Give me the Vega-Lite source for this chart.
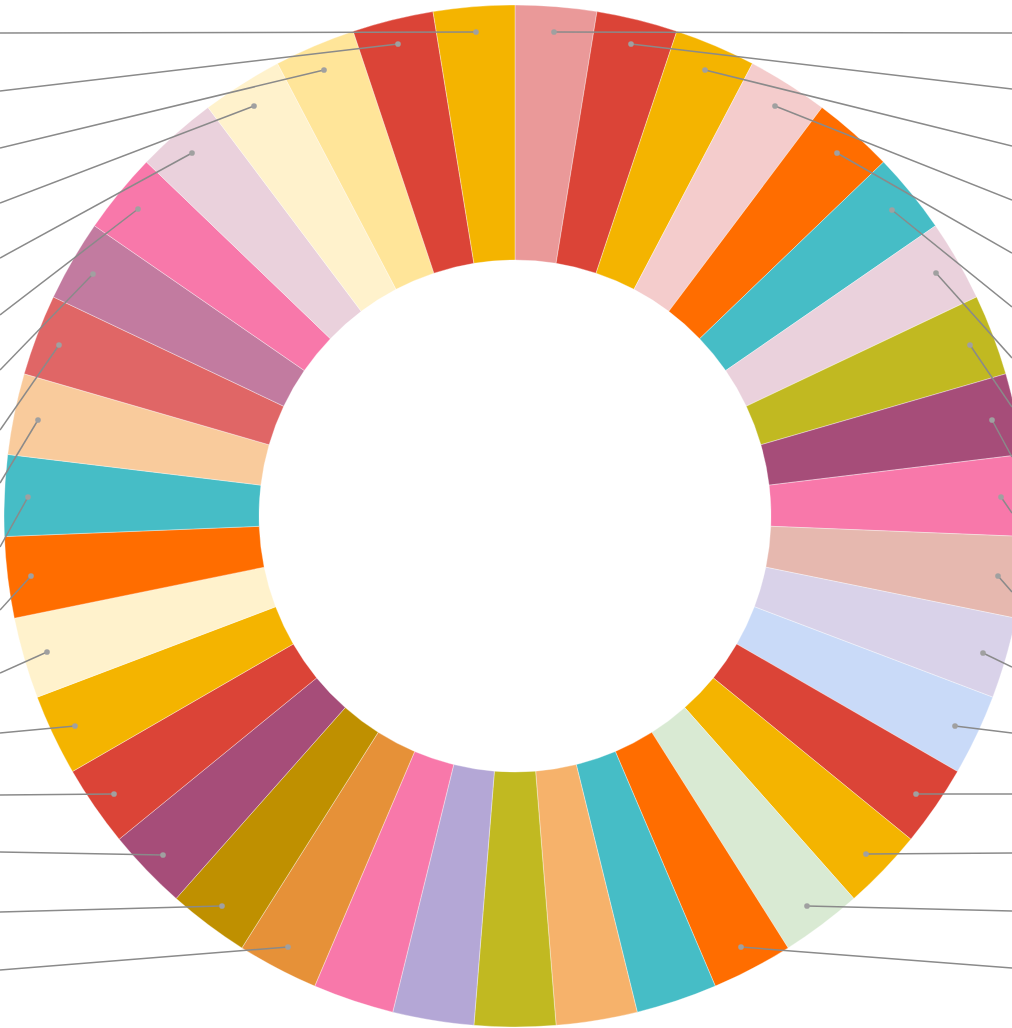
{
  "$schema": "https://vega.github.io/schema/vega-lite/v6.json",
  "width": 994,
  "height": 1024,
  "autosize": {"type": "none"},
  "padding": {"left": 18, "top": 4, "right": 0, "bottom": 0},
  "background": "white",
  "config": {"view": {"stroke": null}},
  "datasets": {
    "slices": [
      {"idx": 1, "name": "S01", "value": 1}, {"idx": 2, "name": "S02", "value": 1},
      {"idx": 3, "name": "S03", "value": 1}, {"idx": 4, "name": "S04", "value": 1},
      {"idx": 5, "name": "S05", "value": 1}, {"idx": 6, "name": "S06", "value": 1},
      {"idx": 7, "name": "S07", "value": 1}, {"idx": 8, "name": "S08", "value": 1},
      {"idx": 9, "name": "S09", "value": 1}, {"idx": 10, "name": "S10", "value": 1},
      {"idx": 11, "name": "S11", "value": 1}, {"idx": 12, "name": "S12", "value": 1},
      {"idx": 13, "name": "S13", "value": 1}, {"idx": 14, "name": "S14", "value": 1},
      {"idx": 15, "name": "S15", "value": 1}, {"idx": 16, "name": "S16", "value": 1},
      {"idx": 17, "name": "S17", "value": 1}, {"idx": 18, "name": "S18", "value": 1},
      {"idx": 19, "name": "S19", "value": 1}, {"idx": 20, "name": "S20", "value": 1},
      {"idx": 21, "name": "S21", "value": 1}, {"idx": 22, "name": "S22", "value": 1},
      {"idx": 23, "name": "S23", "value": 1}, {"idx": 24, "name": "S24", "value": 1},
      {"idx": 25, "name": "S25", "value": 1}, {"idx": 26, "name": "S26", "value": 1},
      {"idx": 27, "name": "S27", "value": 1}, {"idx": 28, "name": "S28", "value": 1},
      {"idx": 29, "name": "S29", "value": 1}, {"idx": 30, "name": "S30", "value": 1},
      {"idx": 31, "name": "S31", "value": 1}, {"idx": 32, "name": "S32", "value": 1},
      {"idx": 33, "name": "S33", "value": 1}, {"idx": 34, "name": "S34", "value": 1},
      {"idx": 35, "name": "S35", "value": 1}, {"idx": 36, "name": "S36", "value": 1},
      {"idx": 37, "name": "S37", "value": 1}, {"idx": 38, "name": "S38", "value": 1},
      {"idx": 39, "name": "S39", "value": 1}
    ],
    "leaders": [
      {"idx": 1, "x": 39, "y": 484, "x2": 497, "y2": 483},
      {"idx": 2, "x": 116, "y": 472, "x2": 497, "y2": 427},
      {"idx": 3, "x": 190, "y": 446, "x2": 497, "y2": 370},
      {"idx": 4, "x": 260, "y": 410, "x2": 497, "y2": 316},
      {"idx": 5, "x": 322, "y": 363, "x2": 497, "y2": 263},
      {"idx": 6, "x": 377, "y": 306, "x2": 497, "y2": 209},
      {"idx": 7, "x": 421, "y": 243, "x2": 497, "y2": 158},
      {"idx": 8, "x": 455, "y": 171, "x2": 497, "y2": 109},
      {"idx": 9, "x": 477, "y": 96, "x2": 497, "y2": 59},
      {"idx": 10, "x": 486, "y": 19, "x2": 497, "y2": 3},
      {"idx": 11, "x": 483, "y": -60, "x2": 497, "y2": -76},
      {"idx": 12, "x": 468, "y": -137, "x2": 497, "y2": -151},
      {"idx": 13, "x": 440, "y": -210, "x2": 497, "y2": -217},
      {"idx": 14, "x": 401, "y": -278, "x2": 497, "y2": -278},
      {"idx": 15, "x": 351, "y": -338, "x2": 497, "y2": -337},
      {"idx": 16, "x": 292, "y": -390, "x2": 497, "y2": -395},
      {"idx": 17, "x": 226, "y": -431, "x2": 497, "y2": -452},
      {"idx": 23, "x": -227, "y": -431, "x2": -515, "y2": -454},
      {"idx": 24, "x": -293, "y": -390, "x2": -515, "y2": -396},
      {"idx": 25, "x": -352, "y": -339, "x2": -515, "y2": -336},
      {"idx": 26, "x": -401, "y": -278, "x2": -515, "y2": -279},
      {"idx": 27, "x": -440, "y": -210, "x2": -515, "y2": -217},
      {"idx": 28, "x": -468, "y": -136, "x2": -515, "y2": -157},
      {"idx": 29, "x": -484, "y": -60, "x2": -515, "y2": -94},
      {"idx": 30, "x": -487, "y": 19, "x2": -515, "y2": -31},
      {"idx": 31, "x": -477, "y": 96, "x2": -515, "y2": 33},
      {"idx": 32, "x": -456, "y": 171, "x2": -515, "y2": 86},
      {"idx": 33, "x": -422, "y": 242, "x2": -515, "y2": 146},
      {"idx": 34, "x": -377, "y": 307, "x2": -515, "y2": 201},
      {"idx": 35, "x": -323, "y": 363, "x2": -515, "y2": 258},
      {"idx": 36, "x": -261, "y": 410, "x2": -515, "y2": 313},
      {"idx": 37, "x": -191, "y": 446, "x2": -515, "y2": 368},
      {"idx": 38, "x": -117, "y": 472, "x2": -515, "y2": 425},
      {"idx": 39, "x": -39, "y": 484, "x2": -515, "y2": 483}
    ]
  },
  "layer": [
    {
      "data": {"name": "slices"},
      "mark": {"type": "arc", "outerRadius": 511, "innerRadius": 256, "stroke": "#ffffff", "strokeWidth": 0.35},
      "encoding": {
        "theta": {"field": "value", "type": "quantitative", "stack": true},
        "order": {"field": "idx", "type": "quantitative"},
        "color": {
          "field": "name",
          "type": "nominal",
          "legend": null,
          "scale": {
            "domain": ["S01","S02","S03","S04","S05","S06","S07","S08","S09","S10","S11","S12","S13","S14","S15","S16","S17","S18","S19","S20","S21","S22","S23","S24","S25","S26","S27","S28","S29","S30","S31","S32","S33","S34","S35","S36","S37","S38","S39"],
            "range": ["#EA9999","#DB4437","#F4B400","#F4CCCC","#FF6D00","#46BDC6","#EAD1DC","#C1B921","#A64D79","#F878AA","#E6B8AF","#D9D2E9","#C9DAF8","#DB4437","#F4B400","#D9EAD3","#FF6D00","#46BDC6","#F6B26B","#C1B921","#B4A7D6","#F878AA","#E69138","#BF9000","#A64D79","#DB4437","#F4B400","#FFF2CC","#FF6D00","#46BDC6","#F9CB9C","#E06666","#C27BA0","#F878AA","#EAD1DC","#FFF2CC","#FFE599","#DB4437","#F4B400"]
          }
        }
      }
    },
    {
      "data": {"name": "leaders"},
      "mark": {"type": "rule", "stroke": "#8a8a8a", "strokeWidth": 1.5},
      "encoding": {
        "x": {"field": "x", "type": "quantitative", "axis": null, "scale": {"domain": [-497, 497], "nice": false, "zero": false}},
        "y": {"field": "y", "type": "quantitative", "axis": null, "scale": {"domain": [-512, 512], "nice": false, "zero": false}},
        "x2": {"field": "x2"},
        "y2": {"field": "y2"}
      }
    },
    {
      "data": {"name": "leaders"},
      "mark": {"type": "point", "filled": true, "opacity": 1, "color": "#a0a0a0", "size": 32},
      "encoding": {
        "x": {"field": "x", "type": "quantitative", "axis": null, "scale": {"domain": [-497, 497], "nice": false, "zero": false}},
        "y": {"field": "y", "type": "quantitative", "axis": null, "scale": {"domain": [-512, 512], "nice": false, "zero": false}}
      }
    }
  ]
}
